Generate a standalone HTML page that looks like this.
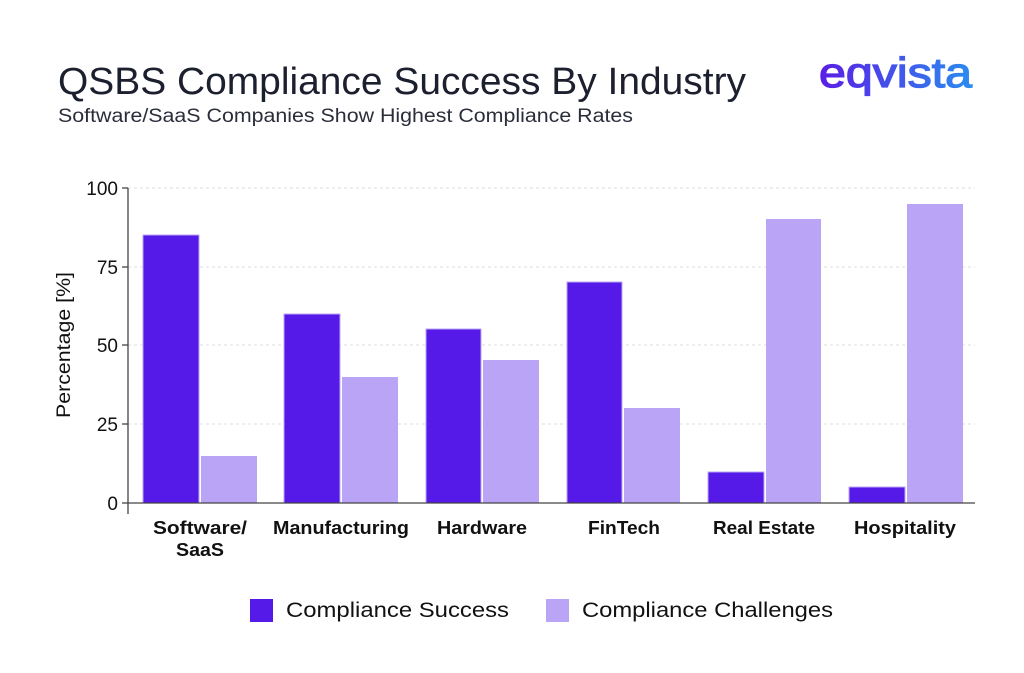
<!DOCTYPE html><html><head><meta charset="utf-8"><style>body{margin:0;background:#fff}svg{display:block;font-family:"Liberation Sans",sans-serif}</style></head><body>
<svg width="1024" height="673" viewBox="0 0 1024 673">
<defs><linearGradient id="g" x1="0" x2="1"><stop offset="0" stop-color="#5b1de6"/><stop offset="1" stop-color="#2a8cf0"/></linearGradient></defs>
<rect width="1024" height="673" fill="#fff"/>
<text x="58" y="94" font-size="38" fill="#1b1f2e" textLength="688" lengthAdjust="spacingAndGlyphs">QSBS Compliance Success By Industry</text>
<text x="58" y="122" font-size="19" fill="#2a2e3a" textLength="575" lengthAdjust="spacingAndGlyphs">Software/SaaS Companies Show Highest Compliance Rates</text>
<text x="819" y="87" font-size="42" fill="url(#g)" stroke="url(#g)" stroke-width="1.3" textLength="153" lengthAdjust="spacingAndGlyphs">eqvista</text>
<g stroke="#ddd" stroke-dasharray="3,3"><line x1="128" x2="975" y1="188" y2="188"/><line x1="128" x2="975" y1="267" y2="267"/><line x1="128" x2="975" y1="345" y2="345"/><line x1="128" x2="975" y1="424" y2="424"/></g>
<g fill="#561ae8" stroke="#b9a4f5" stroke-width="1">
<rect x="143" y="235" width="56" height="268"/><rect x="284" y="314" width="56" height="189"/><rect x="426" y="329" width="55" height="174"/><rect x="567" y="282" width="55" height="221"/><rect x="708" y="472" width="56" height="31"/><rect x="849" y="487" width="56" height="16"/></g>
<g fill="#b9a4f5"><rect x="201" y="456" width="56" height="47"/><rect x="342" y="377" width="56" height="126"/><rect x="483" y="360" width="56" height="143"/><rect x="624" y="408" width="56" height="95"/><rect x="766" y="219" width="55" height="284"/><rect x="907" y="204" width="56" height="299"/></g>
<g stroke="#444" stroke-width="1.3"><line x1="128" x2="128" y1="188" y2="514"/><line x1="128" x2="975" y1="503" y2="503"/>
<line x1="122" x2="128" y1="188" y2="188"/><line x1="122" x2="128" y1="267" y2="267"/><line x1="122" x2="128" y1="345" y2="345"/><line x1="122" x2="128" y1="424" y2="424"/><line x1="122" x2="128" y1="503" y2="503"/></g>
<g font-size="19" fill="#111" text-anchor="end"><text x="118" y="195">100</text><text x="118" y="274">75</text><text x="118" y="352">50</text><text x="118" y="431">25</text><text x="118" y="510">0</text></g>
<text transform="translate(70,345) rotate(-90)" text-anchor="middle" font-size="19" fill="#111" textLength="146" lengthAdjust="spacingAndGlyphs">Percentage [%]</text>
<g font-size="18" fill="#111" text-anchor="middle" font-weight="600"><text x="200" y="534" textLength="94" lengthAdjust="spacingAndGlyphs">Software/</text><text x="200" y="556" textLength="48" lengthAdjust="spacingAndGlyphs">SaaS</text><text x="341" y="534" textLength="136" lengthAdjust="spacingAndGlyphs">Manufacturing</text><text x="482" y="534" textLength="90" lengthAdjust="spacingAndGlyphs">Hardware</text><text x="624" y="534" textLength="72" lengthAdjust="spacingAndGlyphs">FinTech</text><text x="764" y="534" textLength="102" lengthAdjust="spacingAndGlyphs">Real Estate</text><text x="905" y="534" textLength="102" lengthAdjust="spacingAndGlyphs">Hospitality</text></g>
<rect x="250" y="599" width="23" height="23" fill="#561ae8"/><text x="286" y="617" font-size="21" fill="#111" textLength="223" lengthAdjust="spacingAndGlyphs">Compliance Success</text>
<rect x="546" y="599" width="23" height="23" fill="#b9a4f5"/><text x="582" y="617" font-size="21" fill="#111" textLength="251" lengthAdjust="spacingAndGlyphs">Compliance Challenges</text>
</svg></body></html>
